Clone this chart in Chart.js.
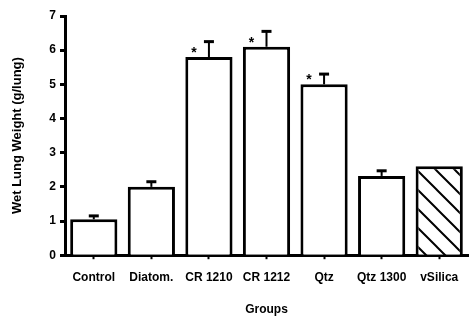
<!DOCTYPE html>
<html>
<head>
<meta charset="utf-8">
<script src="https://cdn.jsdelivr.net/npm/chart.js@4/dist/chart.umd.min.js"></script>
<style>
  html, body { margin: 0; padding: 0; background: #fff; }
  #wrap { width: 472px; height: 317px; }
</style>
</head>
<body>
<div id="wrap"><canvas id="lungChart" width="472" height="317"></canvas></div>
<script>
// values
const groups = ['Control', 'Diatom.', 'CR 1210', 'CR 1212', 'Qtz', 'Qtz 1300', 'vSilica'];
const wetWeight = [1.05, 2.0, 5.8, 6.1, 5.0, 2.32, 2.6];
const sem = [0.1, 0.15, 0.45, 0.45, 0.3, 0.15, null];
const significant = [false, false, true, true, true, false, false];
const hatched = [false, false, false, false, false, false, true];

const font = { family: '"Liberation Sans", Arial, sans-serif', weight: 'bold' };

// diagonal hatch for the last bar
const makeHatch = () => {
  const s = 19;
  const c = document.createElement('canvas');
  c.width = s; c.height = s;
  const g = c.getContext('2d');
  g.fillStyle = '#fff';
  g.fillRect(0, 0, s, s);
  g.strokeStyle = '#000';
  g.lineWidth = 2;
  g.beginPath();
  g.moveTo(-2, -2); g.lineTo(s + 2, s + 2);
  g.moveTo(-2, s - 2); g.lineTo(2, s + 2);
  g.moveTo(s - 2, -2); g.lineTo(s + 2, 2);
  g.stroke();
  return g.createPattern(c, 'repeat');
};
const hatch = makeHatch();

// error bars (upper half only) and significance stars
const errorBars = {
  id: 'errorBars',
  afterDatasetsDraw(chart) {
    const ctx = chart.ctx;
    const yScale = chart.scales.y;
    const meta = chart.getDatasetMeta(0);
    ctx.save();
    ctx.strokeStyle = '#000';
    ctx.fillStyle = '#000';
    meta.data.forEach((bar, i) => {
      const x = bar.x;
      if (sem[i] != null) {
        const yTop = yScale.getPixelForValue(wetWeight[i] + sem[i]);
        ctx.lineWidth = 2;
        ctx.beginPath();
        ctx.moveTo(x, bar.y);
        ctx.lineTo(x, yTop);
        ctx.stroke();
        ctx.lineWidth = 3;
        ctx.beginPath();
        ctx.moveTo(x - 5, yTop);
        ctx.lineTo(x + 5, yTop);
        ctx.stroke();
      }
      if (significant[i]) {
        ctx.font = 'bold 14px "Liberation Sans", Arial, sans-serif';
        ctx.textAlign = 'center';
        ctx.textBaseline = 'middle';
        ctx.fillText('*', x - 15, bar.y - 4);
      }
    });
    ctx.restore();
  }
};

new Chart(document.getElementById('lungChart'), {
  type: 'bar',
  data: {
    labels: groups,
    datasets: [{
      data: wetWeight,
      backgroundColor: hatched.map(h => h ? hatch : '#fff'),
      borderColor: '#000',
      borderWidth: 3,
      barPercentage: 0.82,
      categoryPercentage: 1.0
    }]
  },
  options: {
    responsive: false,
    animation: false,
    layout: { padding: { top: 16, right: 4, left: 10, bottom: 0 } },
    plugins: {
      legend: { display: false },
      tooltip: { enabled: false }
    },
    scales: {
      x: {
        grid: { display: true, drawOnChartArea: false, offset: false, tickLength: 4, tickWidth: 2, tickColor: '#000' },
        border: { display: true, color: '#000', width: 3 },
        ticks: { color: '#000', font: { ...font, size: 12 }, padding: 11, maxRotation: 0, autoSkip: false },
        title: { display: true, text: 'Groups', color: '#000', font: { ...font, size: 12 }, padding: { top: 7, bottom: 0 } }
      },
      y: {
        min: 0,
        max: 7,
        afterFit(scale) { scale.width = 55; },
        grid: { display: true, drawOnChartArea: false, tickLength: 5, tickWidth: 3, tickColor: '#000' },
        border: { display: true, color: '#000', width: 3 },
        ticks: {
          stepSize: 0.5,
          color: '#000',
          font: { ...font, size: 12 },
          padding: 4,
          callback: v => Number.isInteger(v) ? v : ''
        },
        title: { display: true, text: 'Wet Lung Weight (g/lung)', color: '#000', font: { ...font, size: 13 }, padding: { top: 0, bottom: 4 } }
      }
    }
  },
  plugins: [errorBars]
});
</script>
</body>
</html>
